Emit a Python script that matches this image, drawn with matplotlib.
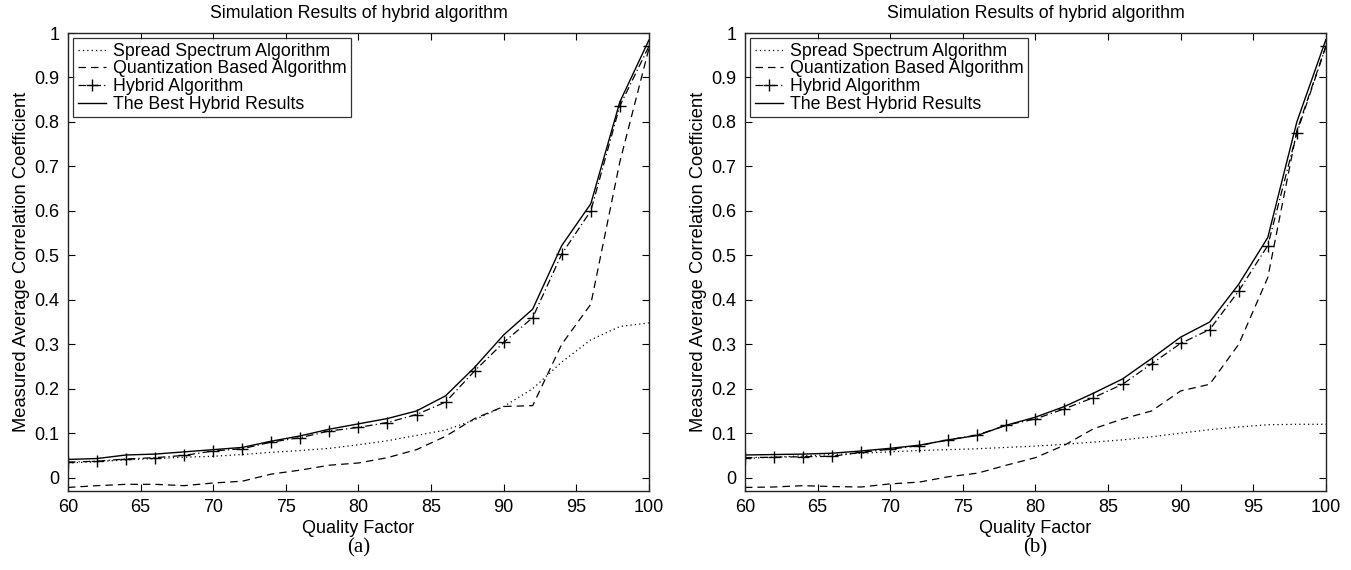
import matplotlib
matplotlib.use("Agg")
import matplotlib.pyplot as plt

# Data
quality = [60, 62, 64, 66, 68, 70, 72, 74, 76, 78, 80, 82, 84, 86, 88, 90, 92, 94, 96, 98, 100]

# panel (a)
spread_a = [0.033, 0.036, 0.040, 0.043, 0.046, 0.048, 0.052, 0.057, 0.061, 0.066, 0.074,
            0.083, 0.095, 0.107, 0.130, 0.160, 0.200, 0.260, 0.310, 0.340, 0.348]
quant_a = [-0.022, -0.018, -0.015, -0.015, -0.018, -0.012, -0.008, 0.008, 0.017, 0.028, 0.033,
           0.045, 0.063, 0.093, 0.133, 0.160, 0.162, 0.300, 0.390, 0.710, 0.965]
hybrid_a = [0.035, 0.037, 0.042, 0.045, 0.050, 0.060, 0.065, 0.080, 0.090, 0.105, 0.113,
            0.124, 0.142, 0.170, 0.240, 0.304, 0.360, 0.503, 0.600, 0.836, 0.970]
best_a = [0.041, 0.043, 0.051, 0.053, 0.058, 0.063, 0.068, 0.082, 0.094, 0.109, 0.121,
          0.133, 0.150, 0.184, 0.248, 0.321, 0.379, 0.522, 0.616, 0.845, 0.984]

# panel (b)
spread_b = [0.043, 0.046, 0.049, 0.052, 0.055, 0.058, 0.061, 0.063, 0.065, 0.068, 0.071,
            0.075, 0.080, 0.085, 0.092, 0.100, 0.108, 0.114, 0.119, 0.120, 0.120]
quant_b = [-0.022, -0.021, -0.018, -0.020, -0.021, -0.014, -0.010, 0.002, 0.010, 0.028, 0.045,
           0.073, 0.110, 0.132, 0.150, 0.195, 0.210, 0.300, 0.450, 0.780, 0.970]
hybrid_b = [0.045, 0.046, 0.047, 0.048, 0.057, 0.064, 0.072, 0.085, 0.096, 0.118, 0.132,
            0.155, 0.180, 0.210, 0.256, 0.302, 0.333, 0.420, 0.522, 0.775, 0.970]
best_b = [0.051, 0.052, 0.053, 0.055, 0.060, 0.066, 0.073, 0.085, 0.095, 0.118, 0.136,
          0.160, 0.190, 0.222, 0.268, 0.316, 0.350, 0.435, 0.540, 0.800, 0.985]

labels = ["Spread Spectrum Algorithm", "Quantization Based Algorithm",
          "Hybrid Algorithm", "The Best Hybrid Results"]
xticks = [60, 65, 70, 75, 80, 85, 90, 95, 100]
yticks = [0, 0.1, 0.2, 0.3, 0.4, 0.5, 0.6, 0.7, 0.8, 0.9, 1.0]
yticklabels = ["0", "0.1", "0.2", "0.3", "0.4", "0.5", "0.6", "0.7", "0.8", "0.9", "1"]

plt.rcParams["font.family"] = ["Liberation Sans", "DejaVu Sans"]

fig = plt.figure(figsize=(13.51, 5.70), dpi=100)
ax_a = fig.add_axes([0.0503, 0.1386, 0.430, 0.8035])
ax_b = fig.add_axes([0.5514, 0.1386, 0.430, 0.8035])

panels = [(ax_a, spread_a, quant_a, hybrid_a, best_a, "(a)"),
          (ax_b, spread_b, quant_b, hybrid_b, best_b, "(b)")]

for ax, spread, quant, hybrid, best, caption in panels:
    lw = 0.9
    ax.plot(quality, spread, color="black", lw=lw, linestyle=(0, (1, 2.5)), label=labels[0])
    ax.plot(quality, quant, color="black", lw=lw, linestyle=(0, (6, 4)), label=labels[1])
    ax.plot(quality, hybrid, color="black", lw=lw, linestyle=(0, (6, 2.5, 1, 2.5)),
            marker="+", markersize=8, markeredgewidth=1.0, label=labels[2])
    ax.plot(quality, best, color="black", lw=1.0, linestyle="-", label=labels[3])

    ax.set_xlim(60, 100)
    ax.set_ylim(-0.03, 1.0)
    ax.set_xticks(xticks)
    ax.set_yticks(yticks)
    ax.set_yticklabels(yticklabels)
    ax.tick_params(direction="in", length=5, width=0.8, top=True, right=True,
                   labelsize=13, pad=6)
    for s in ax.spines.values():
        s.set_linewidth(1.0)
        s.set_color("#222222")

    ax.set_title("Simulation Results of hybrid algorithm", fontsize=12.8, pad=11)
    ax.set_xlabel("Quality Factor", fontsize=13, labelpad=3)
    ax.set_ylabel("Measured Average Correlation Coefficient", fontsize=13.2, labelpad=3)

    leg = ax.legend(loc="upper left", fontsize=12.8, frameon=True, fancybox=False,
                    edgecolor="black", handlelength=1.6, handletextpad=0.4,
                    borderpad=0.25, labelspacing=0.04, borderaxespad=0.3)
    leg.get_frame().set_linewidth(0.9)

    ax.text(0.5, -0.1245, caption, transform=ax.transAxes, ha="center", va="center",
            fontsize=15, family="Liberation Serif")

fig.savefig("out.png", dpi=100)
